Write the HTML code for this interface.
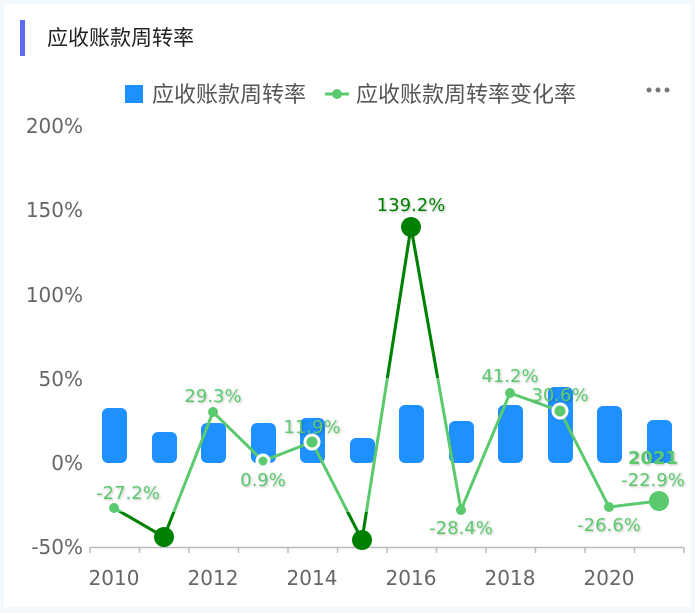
<!DOCTYPE html>
<html><head><meta charset="utf-8"><style>
body{margin:0;background:#f3f8fd;}
svg{display:block;font-family:"DejaVu Sans","Noto Sans CJK SC",sans-serif;}
</style></head><body>
<svg width="695" height="613" viewBox="0 0 695 613">
<defs>
<filter id="sh" x="-10%" y="-30%" width="130%" height="170%"><feDropShadow dx="1" dy="1" stdDeviation="1" flood-color="#000" flood-opacity="0.25"/></filter>
<clipPath id="dk"><rect x="0" y="0" width="695" height="378"/><rect x="0" y="512" width="695" height="60"/></clipPath>
</defs>
<rect x="4" y="4" width="687" height="603" fill="#fff"/>
<rect x="20" y="20" width="5" height="36" fill="#5b6cf2"/>
<text x="47" y="45" font-size="21" fill="#222" font-family="Noto Sans CJK SC,sans-serif">应收账款周转率</text>
<rect x="125" y="85" width="18" height="18" fill="#1e90ff"/>
<text x="152" y="102" font-size="22" fill="#555" font-family="Noto Sans CJK SC,sans-serif">应收账款周转率</text>
<line x1="325" y1="94" x2="349" y2="94" stroke="#5bc96e" stroke-width="3"/>
<circle cx="337" cy="94" r="5" fill="#5bc96e"/>
<text x="356" y="102" font-size="22" fill="#555" font-family="Noto Sans CJK SC,sans-serif">应收账款周转率变化率</text>
<g fill="#777"><circle cx="649" cy="90" r="2.5"/><circle cx="658" cy="90" r="2.5"/><circle cx="667" cy="90" r="2.5"/></g>
<g font-size="20" fill="#666" text-anchor="end">
<text x="83" y="133">200%</text><text x="83" y="217">150%</text><text x="83" y="302">100%</text>
<text x="83" y="386">50%</text><text x="83" y="470">0%</text><text x="83" y="554">-50%</text>
</g>
<line x1="90" y1="547.5" x2="684" y2="547.5" stroke="#bbb" stroke-width="1.5"/>
<g stroke="#bbb" stroke-width="1.5">
<line x1="90" y1="547" x2="90" y2="553"/><line x1="139.5" y1="547" x2="139.5" y2="553"/><line x1="189" y1="547" x2="189" y2="553"/><line x1="238.5" y1="547" x2="238.5" y2="553"/><line x1="288" y1="547" x2="288" y2="553"/><line x1="337.5" y1="547" x2="337.5" y2="553"/><line x1="387" y1="547" x2="387" y2="553"/><line x1="436.5" y1="547" x2="436.5" y2="553"/><line x1="486" y1="547" x2="486" y2="553"/><line x1="535.5" y1="547" x2="535.5" y2="553"/><line x1="585" y1="547" x2="585" y2="553"/><line x1="634.5" y1="547" x2="634.5" y2="553"/><line x1="684" y1="547" x2="684" y2="553"/>
</g>
<g font-size="20" fill="#666" text-anchor="middle">
<text x="114" y="585">2010</text><text x="213" y="585">2012</text><text x="312" y="585">2014</text><text x="411" y="585">2016</text><text x="510" y="585">2018</text><text x="609" y="585">2020</text>
</g>
<g fill="#1e90ff">
<rect x="102" y="408" width="25" height="55" rx="6"/>
<rect x="152" y="432" width="25" height="31" rx="6"/>
<rect x="201" y="423" width="25" height="40" rx="6"/>
<rect x="251" y="423" width="25" height="40" rx="6"/>
<rect x="300" y="418" width="25" height="45" rx="6"/>
<rect x="350" y="438" width="25" height="25" rx="6"/>
<rect x="399" y="405" width="25" height="58" rx="6"/>
<rect x="449" y="421" width="25" height="42" rx="6"/>
<rect x="498" y="405" width="25" height="58" rx="6"/>
<rect x="548" y="387" width="25" height="76" rx="6"/>
<rect x="597" y="406" width="25" height="57" rx="6"/>
<rect x="647" y="420" width="25" height="43" rx="6"/>
</g>
<polyline points="114,508 164,537 213,412 263,461 312,442 362,540 411,227 461,510 510,393 560,411 609,507 659,501" fill="none" stroke="#5bc96e" stroke-width="3"/>
<polyline points="114,508 164,537 213,412 263,461 312,442 362,540 411,227 461,510" fill="none" stroke="#008000" stroke-width="3" clip-path="url(#dk)"/>
<g fill="#5bc96e">
<circle cx="114" cy="508" r="5"/><circle cx="213" cy="412" r="5"/>
<circle cx="263" cy="461" r="6" stroke="#fff" stroke-width="3"/>
<circle cx="312" cy="442" r="7" stroke="#fff" stroke-width="3"/>
<circle cx="461" cy="510" r="5"/><circle cx="510" cy="393" r="5"/>
<circle cx="560" cy="411" r="7" stroke="#fff" stroke-width="3"/>
<circle cx="609" cy="507" r="5"/><circle cx="659" cy="501" r="10"/>
</g>
<g fill="#008000"><circle cx="164" cy="537" r="10"/><circle cx="362" cy="540" r="10"/><circle cx="411" cy="227" r="10"/></g>
<g font-size="18" fill="#5bc96e" text-anchor="middle" filter="url(#sh)">
<text x="128" y="499">-27.2%</text><text x="213" y="402">29.3%</text><text x="263" y="486">0.9%</text>
<text x="312" y="433">11.9%</text><text x="461" y="534">-28.4%</text><text x="510" y="382">41.2%</text>
<text x="560" y="401">30.6%</text><text x="609" y="531">-26.6%</text>
<text x="653" y="464" font-weight="bold">2021</text><text x="653" y="486">-22.9%</text>
</g>
<text x="411" y="211" font-size="18" fill="#008000" text-anchor="middle" filter="url(#sh)">139.2%</text>
</svg>
</body></html>
